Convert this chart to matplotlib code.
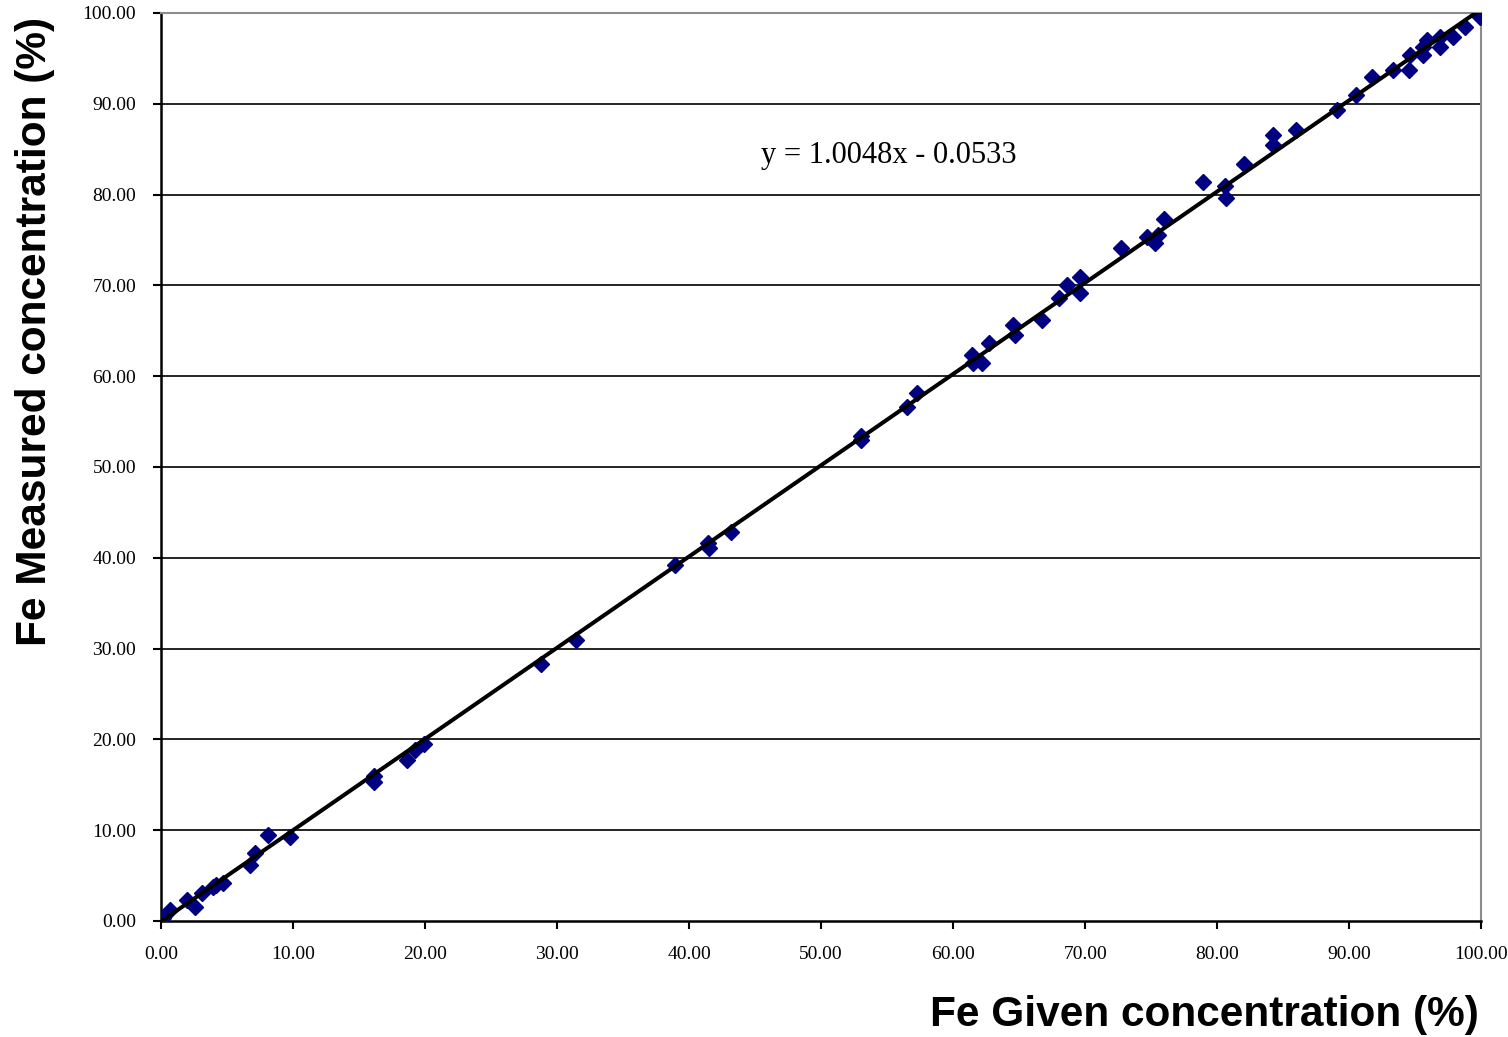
import numpy as np
import matplotlib
matplotlib.use("Agg")
import matplotlib.pyplot as plt

# Given vs measured Fe concentration (%)
given = [0.15, 0.68, 2.0, 2.6, 3.1, 3.9, 4.2, 4.7, 6.7, 7.1, 8.1, 9.8,
         16.1, 16.1, 18.6, 19.2, 19.9, 28.8, 31.4, 38.9, 41.4, 41.5, 43.2,
         53.0, 53.0, 56.5, 57.3, 61.4, 61.5, 62.2, 62.7, 64.5, 64.7, 66.7,
         68.0, 68.6, 69.6, 69.6, 72.7, 74.7, 75.3, 75.5, 76.0, 78.9, 80.6,
         80.7, 82.0, 84.2, 84.2, 86.0, 89.1, 90.5, 91.7, 93.3, 94.5, 94.6,
         95.6, 95.9, 95.6, 96.9, 96.9, 97.9, 98.8, 99.9]
measured = [0.3, 1.2, 2.3, 1.5, 3.1, 3.7, 4.0, 4.2, 6.2, 7.5, 9.5, 9.3,
            16.0, 15.3, 17.7, 18.8, 19.5, 28.3, 30.9, 39.2, 41.6, 41.1, 42.8,
            53.4, 53.0, 56.6, 58.1, 62.3, 61.5, 61.5, 63.7, 65.6, 64.5, 66.2,
            68.6, 70.0, 70.9, 69.2, 74.1, 75.3, 74.7, 75.6, 77.3, 81.4, 80.9,
            79.6, 83.4, 85.5, 86.6, 87.1, 89.3, 91.0, 93.0, 93.7, 93.7, 95.4,
            96.3, 97.0, 95.4, 97.4, 96.3, 97.4, 98.5, 99.6]

# linear trend line
slope = 1.0048
intercept = -0.0533

ticks = np.arange(0, 101, 10)

fig = plt.figure(figsize=(15.08, 10.37), dpi=100)
ax = fig.add_axes([0.1068, 0.1119, 0.8754, 0.8756])

for t in ticks[1:]:
    ax.axhline(t, color="black", lw=1.2, zorder=1)

ax.plot(given, measured, linestyle="none", marker="D", markersize=8.5,
        color="#000080", zorder=3)

xl = np.array([0, 100])
ax.plot(xl, slope * xl + intercept, color="black", lw=2.9, zorder=4)

ax.text(55.1, 84.3, "y = 1.0048x - 0.0533", fontsize=22,
        family="Liberation Serif", ha="center", va="center")

ax.set_xlim(0, 100)
ax.set_ylim(0, 100)
ax.set_xticks(ticks)
ax.set_yticks(ticks)
ax.set_xticklabels(["%.2f" % t for t in ticks], family="Liberation Serif", fontsize=14)
ax.set_yticklabels(["%.2f" % t for t in ticks], family="Liberation Serif", fontsize=14)
ax.tick_params(direction="out", length=6, width=1.5, pad=12)

for side in ["left", "bottom"]:
    ax.spines[side].set_linewidth(1.8)
    ax.spines[side].set_color("black")
for side in ["top", "right"]:
    ax.spines[side].set_linewidth(1.5)
    ax.spines[side].set_color("#8c8c8c")

fig.text(0.981, 0.002, "Fe Given concentration (%)", fontsize=30.5,
         family="Liberation Sans", weight="bold", ha="right", va="bottom")
fig.text(0.023, 0.68, "Fe Measured concentration (%)", fontsize=30.5,
         family="Liberation Sans", weight="bold", rotation=90,
         ha="center", va="center")

fig.savefig("out.png", dpi=100)
